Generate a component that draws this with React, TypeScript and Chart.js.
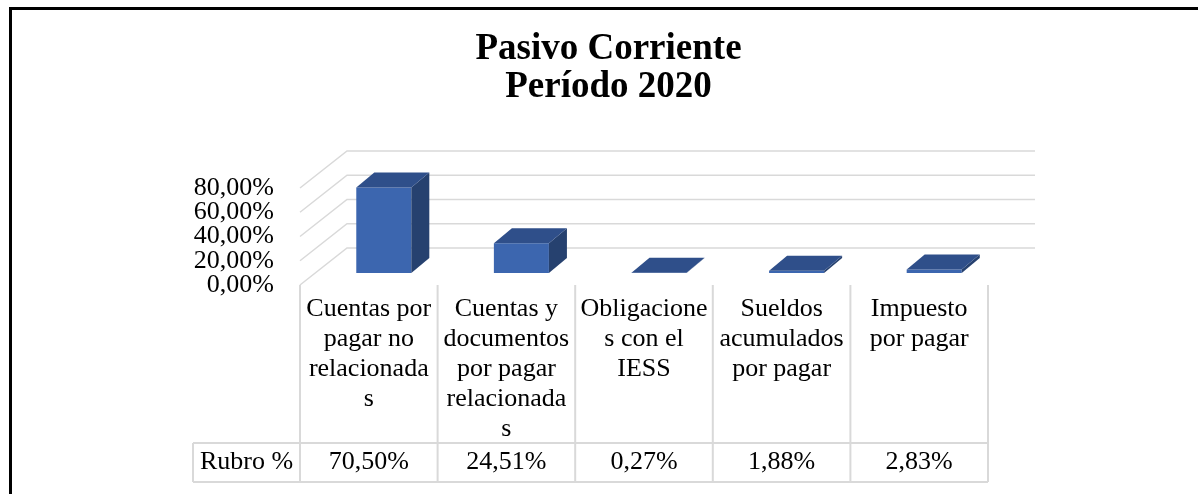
import React, { useEffect, useRef } from 'react';
import { Chart, registerables } from 'chart.js';

Chart.register(...registerables);

// ---------- data ----------
const TITLE_LINES = ['Pasivo Corriente', 'Período 2020'];
const CATEGORIES: string[][] = [
  ['Cuentas por', 'pagar no', 'relacionada', 's'],
  ['Cuentas y', 'documentos', 'por pagar', 'relacionada', 's'],
  ['Obligacione', 's con el', 'IESS'],
  ['Sueldos', 'acumulados', 'por pagar'],
  ['Impuesto', 'por pagar'],
];
const SERIES_NAME = 'Rubro %';
const RUBRO_VALUES = [70.5, 24.51, 0.27, 1.88, 2.83];
const Y_TICKS = [0, 20, 40, 60, 80];

// ---------- style ----------
const FONT = '"Liberation Serif", "Times New Roman", serif';
const FRONT_COLOR = '#3C66AF';
const TOP_COLOR = '#2F4F8A';
const SIDE_COLOR = '#26416F';
const GRID_COLOR = '#d9d9d9';
const FRONT_SHIFT = { dx: 15, dy: -12 };
const BAR_DEPTH = { dx: 18, dy: -15 };
const WALL_DEPTH = { dx: 47, dy: -37 };

const fmt = (v: number) => v.toFixed(2).replace('.', ',') + '%';

const excel3d = {
  id: 'excel3d',
  beforeDraw(chart: any) {
    const { ctx, chartArea, scales } = chart;
    const y = scales.y;
    ctx.save();
    // document frame
    ctx.fillStyle = '#000';
    ctx.fillRect(9, 7, chart.width - 9, 3);
    ctx.fillRect(9, 7, 3, chart.height - 7);
    // side wall + back wall gridlines
    ctx.strokeStyle = GRID_COLOR;
    ctx.lineWidth = 1.5;
    for (const v of Y_TICKS) {
      const py = y.getPixelForValue(v);
      ctx.beginPath();
      ctx.moveTo(chartArea.left, py);
      ctx.lineTo(chartArea.left + WALL_DEPTH.dx, py + WALL_DEPTH.dy);
      ctx.lineTo(chartArea.right + WALL_DEPTH.dx, py + WALL_DEPTH.dy);
      ctx.stroke();
    }
    ctx.restore();
  },
  beforeDatasetDraw(chart: any) {
    chart.ctx.save();
    chart.ctx.translate(FRONT_SHIFT.dx, FRONT_SHIFT.dy);
  },
  afterDatasetDraw(chart: any, args: any) {
    const ctx = chart.ctx;
    args.meta.data.forEach((el: any) => {
      const { x, y, base, width } = el.getProps(['x', 'y', 'base', 'width'], true);
      const l = x - width / 2;
      const r = x + width / 2;
      ctx.fillStyle = SIDE_COLOR;
      ctx.beginPath();
      ctx.moveTo(r, y);
      ctx.lineTo(r + BAR_DEPTH.dx, y + BAR_DEPTH.dy);
      ctx.lineTo(r + BAR_DEPTH.dx, base + BAR_DEPTH.dy);
      ctx.lineTo(r, base);
      ctx.closePath();
      ctx.fill();
      ctx.fillStyle = TOP_COLOR;
      ctx.beginPath();
      ctx.moveTo(l, y);
      ctx.lineTo(l + BAR_DEPTH.dx, y + BAR_DEPTH.dy);
      ctx.lineTo(r + BAR_DEPTH.dx, y + BAR_DEPTH.dy);
      ctx.lineTo(r, y);
      ctx.closePath();
      ctx.fill();
    });
    ctx.restore();
  },
  afterDraw(chart: any) {
    const { ctx } = chart;
    const x = chart.scales.x;
    const n = CATEGORIES.length;
    const step = (x.right - x.left) / n;
    const tableTop = x.top;
    const rowTop = x.bottom;
    const rowBottom = rowTop + 39;
    const headerLeft = x.left - 107;
    ctx.save();
    ctx.strokeStyle = GRID_COLOR;
    ctx.lineWidth = 2;
    ctx.beginPath();
    for (let i = 0; i <= n; i++) {
      const px = x.left + i * step;
      ctx.moveTo(px, tableTop);
      ctx.lineTo(px, rowBottom);
    }
    ctx.moveTo(headerLeft, rowTop);
    ctx.lineTo(x.right, rowTop);
    ctx.moveTo(headerLeft, rowBottom);
    ctx.lineTo(x.right, rowBottom);
    ctx.moveTo(headerLeft, rowTop);
    ctx.lineTo(headerLeft, rowBottom);
    ctx.stroke();

    ctx.fillStyle = '#000';
    ctx.font = `26px ${FONT}`;
    ctx.textAlign = 'center';
    ctx.textBaseline = 'middle';
    const cy = (rowTop + rowBottom) / 2;
    ctx.fillText(SERIES_NAME, (headerLeft + x.left) / 2, cy);
    RUBRO_VALUES.forEach((v, i) => {
      ctx.fillText(fmt(v), x.getPixelForValue(i), cy);
    });
    ctx.restore();
  },
};

export default function App() {
  const ref = useRef<HTMLCanvasElement>(null);
  useEffect(() => {
    const chart = new Chart(ref.current as HTMLCanvasElement, {
      type: 'bar',
      data: {
        labels: CATEGORIES as any,
        datasets: [
          {
            label: SERIES_NAME,
            data: RUBRO_VALUES,
            backgroundColor: FRONT_COLOR,
            borderWidth: 0,
            barPercentage: 0.4,
            categoryPercentage: 1,
            clip: false as any,
          },
        ],
      },
      options: {
        responsive: false,
        animation: false,
        devicePixelRatio: 1,
        layout: { padding: { left: 19, right: 0, top: 0, bottom: 51 } },
        plugins: {
          legend: { display: false },
          tooltip: { enabled: false },
          title: {
            display: true,
            text: TITLE_LINES,
            color: '#000',
            font: { family: FONT, size: 37, weight: 'bold', lineHeight: 38 / 37 },
            padding: { top: 30, bottom: 82 },
          },
        },
        scales: {
          x: {
            grid: { display: false, drawTicks: false },
            border: { display: false },
            ticks: {
              color: '#000',
              font: { family: FONT, size: 26, lineHeight: 30 / 26 },
              padding: 9,
              maxRotation: 0,
              minRotation: 0,
              autoSkip: false,
            },
            afterFit: (s: any) => {
              s.height = 158;
            },
          },
          y: {
            min: 0,
            max: 80,
            grid: { display: false, drawTicks: false },
            border: { display: false },
            ticks: {
              color: '#000',
              font: { family: FONT, size: 26 },
              padding: 26,
              autoSkip: false,
              callback: (v: any) => fmt(Number(v)),
            },
            afterBuildTicks: (s: any) => {
              s.ticks = Y_TICKS.map((v) => ({ value: v }));
            },
            afterFit: (s: any) => {
              s.width = 281;
            },
          },
          yR: {
            type: 'linear',
            position: 'right',
            grid: { display: false, drawTicks: false },
            border: { display: false },
            ticks: { display: false },
            afterFit: (s: any) => {
              s.width = 210;
            },
          },
        },
      } as any,
      plugins: [excel3d as any],
    });
    return () => chart.destroy();
  }, []);
  return (
    <div style={{ position: 'fixed', left: 0, top: 0, width: 1198, height: 494, background: '#fff' }}>
      <canvas ref={ref} width={1198} height={494} style={{ display: 'block' }} />
    </div>
  );
}
